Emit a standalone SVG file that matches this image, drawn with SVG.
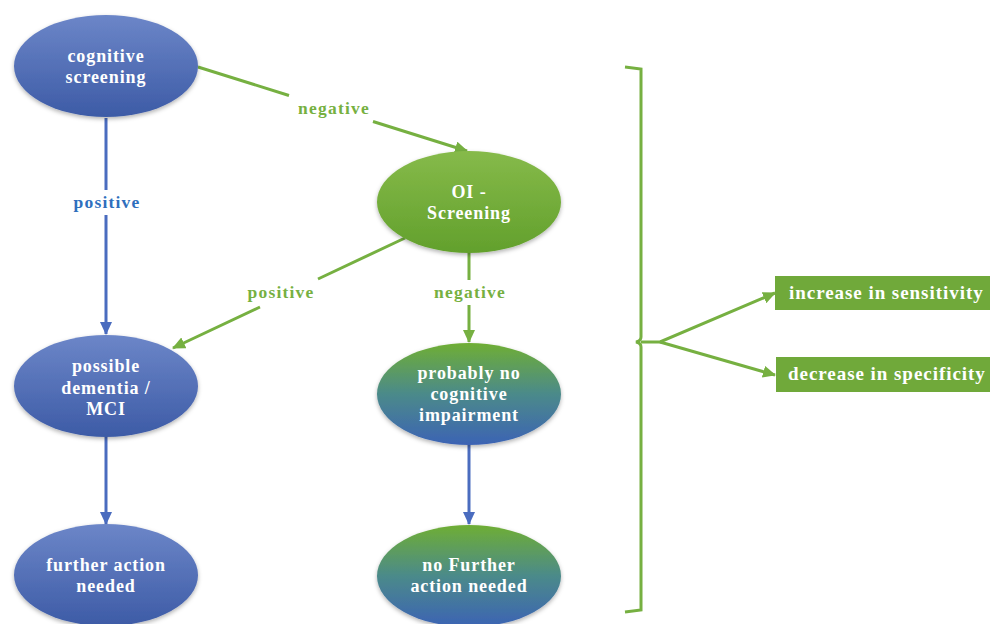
<svg xmlns="http://www.w3.org/2000/svg" width="990" height="624" viewBox="0 0 990 624">
<style>
.nt{font-family:"Liberation Serif","Times New Roman",serif;font-weight:bold;font-size:18px;letter-spacing:0.9px;fill:#ffffff;text-anchor:middle}
.lbl{font-family:"Liberation Serif","Times New Roman",serif;font-weight:bold;font-size:17.5px;letter-spacing:1.2px;text-anchor:middle}
.g{fill:#76b041}
.b{fill:#2f6fbd}
.lg{stroke:#76b041;stroke-width:3;fill:none}
.lb{stroke:#4a6cbf;stroke-width:3;fill:none}
.bt{font-family:"Liberation Serif","Times New Roman",serif;font-weight:bold;font-size:19px;letter-spacing:0.95px;fill:#ffffff}
</style>
<defs>
<linearGradient id="gb" x1="0" y1="0" x2="0" y2="1">
<stop offset="0" stop-color="#6c86c8"/><stop offset="1" stop-color="#3d5ba6"/>
</linearGradient>
<linearGradient id="gg" x1="0" y1="0" x2="0" y2="1">
<stop offset="0" stop-color="#86ba4a"/><stop offset="1" stop-color="#62a02c"/>
</linearGradient>
<linearGradient id="ggb" x1="0" y1="0" x2="0" y2="1">
<stop offset="0" stop-color="#6fae34"/><stop offset="0.5" stop-color="#4b8a8a"/><stop offset="1" stop-color="#3c63b4"/>
</linearGradient>
<filter id="sh" x="-20%" y="-20%" width="140%" height="150%">
<feDropShadow dx="0" dy="2" stdDeviation="2" flood-color="#000" flood-opacity="0.3"/>
</filter>
<marker id="ag" markerUnits="userSpaceOnUse" markerWidth="14" markerHeight="12" refX="12" refY="6" orient="auto">
<path d="M0,0 L13,6 L0,12 Z" fill="#76b041"/>
</marker>
<marker id="ab" markerUnits="userSpaceOnUse" markerWidth="14" markerHeight="12" refX="12" refY="6" orient="auto">
<path d="M0,0 L13,6 L0,12 Z" fill="#4a6cbf"/>
</marker>
</defs>
<rect width="990" height="624" fill="#ffffff"/>

<g id="connectors">
<path class="lb" d="M106,118 L106,190 M106,215 L106,334" marker-end="url(#ab)"/>
<path class="lg" d="M198,67 L289,95.5 M373,121.5 L467,151" marker-end="url(#ag)"/>
<path class="lg" d="M405,238 L318,279 M260,307 L173,348" marker-end="url(#ag)"/>
<path class="lg" d="M469,253 L469,280 M469,305 L469,342" marker-end="url(#ag)"/>
<path class="lb" d="M106,437 L106,524" marker-end="url(#ab)"/>
<path class="lb" d="M469,445 L469,524" marker-end="url(#ab)"/>
<path class="lg" d="M625,67 L641,69 L641,337 Q641,341 636,342 Q641,343 641,347 L641,610 L625,612"/>
<path class="lg" d="M641,342 L660,342 L775,293" marker-end="url(#ag)"/>
<path class="lg" d="M660,342 L775,375" marker-end="url(#ag)"/>
<text class="lbl g" x="334" y="114">negative</text>
<text class="lbl b" x="107" y="208">positive</text>
<text class="lbl g" x="281" y="298">positive</text>
<text class="lbl g" x="470" y="298">negative</text>
</g>

<g id="n1">
<ellipse cx="106" cy="66" rx="92" ry="51" fill="url(#gb)" filter="url(#sh)"/>
<text class="nt" x="106" y="62">cognitive</text>
<text class="nt" x="106" y="83">screening</text>
</g>
<g id="n2">
<ellipse cx="469" cy="202" rx="92" ry="51" fill="url(#gg)" filter="url(#sh)"/>
<text class="nt" x="469" y="198">OI -</text>
<text class="nt" x="469" y="219">Screening</text>
</g>
<g id="n3">
<ellipse cx="106" cy="386" rx="92" ry="51" fill="url(#gb)" filter="url(#sh)"/>
<text class="nt" x="106" y="372">possible</text>
<text class="nt" x="106" y="394">dementia /</text>
<text class="nt" x="106" y="415">MCI</text>
</g>
<g id="n4">
<ellipse cx="469" cy="394" rx="92" ry="51" fill="url(#ggb)" filter="url(#sh)"/>
<text class="nt" x="469" y="379">probably no</text>
<text class="nt" x="469" y="400">cognitive</text>
<text class="nt" x="469" y="421">impairment</text>
</g>
<g id="n5">
<ellipse cx="106" cy="575" rx="92" ry="51" fill="url(#gb)" filter="url(#sh)"/>
<text class="nt" x="106" y="571">further action</text>
<text class="nt" x="106" y="592">needed</text>
</g>
<g id="n6">
<ellipse cx="469" cy="576" rx="92" ry="51" fill="url(#ggb)" filter="url(#sh)"/>
<text class="nt" x="469" y="571">no Further</text>
<text class="nt" x="469" y="592">action needed</text>
</g>
<g id="b1">
<rect x="775" y="276" width="215" height="34" fill="#70a93a"/>
<text class="bt" x="789" y="299">increase in sensitivity</text>
</g>
<g id="b2">
<rect x="776" y="357" width="214" height="35" fill="#70a93a"/>
<text class="bt" x="788" y="380">decrease in specificity</text>
</g>
</svg>
